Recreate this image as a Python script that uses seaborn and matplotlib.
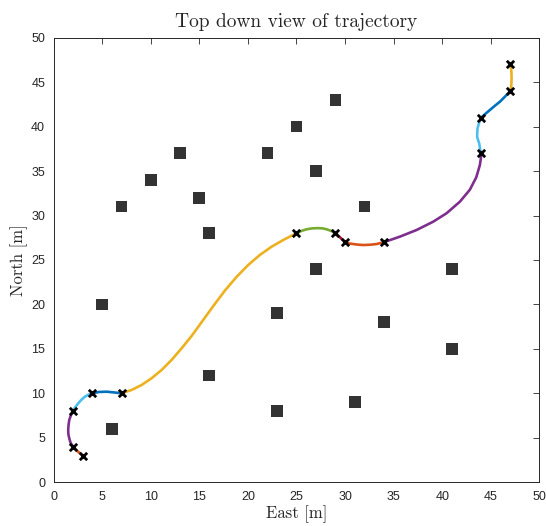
import pandas as pd
import matplotlib
matplotlib.use("Agg")
import matplotlib.pyplot as plt
import seaborn as sns

# obstacles (squares)
obs_x = [5, 6, 7, 10, 13, 15, 16, 16, 22, 23, 23, 25, 27, 27, 29, 31, 32, 34, 41, 41]
obs_y = [20, 6, 31, 34, 37, 32, 28, 12, 37, 19, 8, 40, 35, 24, 43, 9, 31, 18, 24, 15]

# waypoints
wp_x = [3, 2, 2, 4, 7, 25, 29, 30, 34, 44, 44, 47, 47]
wp_y = [3, 4, 8, 10, 10, 28, 28, 27, 27, 37, 41, 44, 47]

# trajectory points, one list per segment
seg_x = [
    [3, 2.5, 2],
    [2, 1.75, 1.62, 1.53, 1.51, 1.55, 1.62, 1.78, 2],
    [2, 2.25, 2.54, 2.88, 3.23, 3.6, 4],
    [4, 4.7, 5.46, 6.2, 7],
    [7, 8.03, 9.06, 10.09, 11.12, 12.15, 13.18, 14.21, 15.24, 16.43, 17.63,
     18.84, 20.03, 21.23, 22.44, 23.63, 24.3, 25],
    [25, 25.5, 26.04, 26.6, 27.2, 27.7, 28.1, 28.6, 29],
    [29, 29.47, 30],
    [30, 30.4, 30.83, 31.35, 31.86, 32.55, 33.24, 34],
    [34, 35.64, 37.36, 39.06, 40.44, 41.81, 42.84, 43.5, 43.87, 43.97, 44],
    [44, 43.88, 43.8, 43.68, 43.59, 43.6, 43.63, 43.78, 44],
    [44, 44.45, 44.9, 45.42, 45.93, 46.3, 46.61, 47],
    [47, 47.1, 47.13, 47.13, 47.1, 47],
]
seg_y = [
    [3, 3.45, 4],
    [4, 4.45, 4.94, 5.4, 5.87, 6.45, 7.0, 7.5, 8],
    [8, 8.45, 8.87, 9.28, 9.62, 9.85, 10],
    [10, 10.15, 10.18, 10.1, 10],
    [10, 10.37, 10.93, 11.69, 12.62, 13.75, 15.06, 16.45, 18.0, 19.8, 21.55,
     23.1, 24.43, 25.56, 26.49, 27.24, 27.62, 28],
    [28, 28.26, 28.45, 28.55, 28.58, 28.55, 28.45, 28.25, 28],
    [28, 27.55, 27],
    [27, 26.86, 26.79, 26.72, 26.68, 26.71, 26.79, 27],
    [27, 27.62, 28.37, 29.3, 30.25, 31.55, 32.9, 34.3, 35.68, 36.4, 37],
    [37, 37.55, 38.12, 38.5, 38.86, 39.35, 39.81, 40.4, 41],
    [41, 41.45, 41.87, 42.35, 42.8, 43.2, 43.55, 44],
    [44, 44.6, 45.24, 45.8, 46.4, 47],
]
seg_colors = ["#D95319", "#7E2F8E", "#4DBEEE", "#0072BD", "#EDB120", "#77AC30",
              "#A2142F", "#D95319", "#7E2F8E", "#4DBEEE", "#0072BD", "#EDB120"]

rows = []
for i, (xs, ys) in enumerate(zip(seg_x, seg_y)):
    for j, (a, b) in enumerate(zip(xs, ys)):
        rows.append({"seg": i, "order": j, "x": a, "y": b})
traj = pd.DataFrame(rows)

sns.set_style("white")
plt.rcParams["font.family"] = ["Liberation Sans", "DejaVu Sans"]

fig = plt.figure(figsize=(5.46, 5.26), dpi=100)
ax = fig.add_axes([0.098, 0.0833, 0.89, 0.845])

sns.scatterplot(x=obs_x, y=obs_y, marker="s", s=70, color="#333333",
                edgecolor="none", ax=ax, zorder=2)
sns.lineplot(data=traj, x="x", y="y", hue="seg", palette=seg_colors, sort=False,
             estimator=None, units="seg", lw=1.9, legend=False, ax=ax, zorder=3)
# round joins so the curves look smooth
for ln in ax.lines:
    ln.set_solid_joinstyle("round")
    ln.set_solid_capstyle("round")
sns.scatterplot(x=wp_x, y=wp_y, marker="x", s=28, color="black",
                linewidth=2.0, ax=ax, zorder=4)

ax.set_xlim(0, 50)
ax.set_ylim(0, 50)
ax.set_xticks(range(0, 51, 5))
ax.set_yticks(range(0, 51, 5))
ax.tick_params(direction="in", length=4, width=0.6, colors="#262626",
               labelsize=9, top=True, right=True, pad=6)
for sp in ax.spines.values():
    sp.set_color("#262626")
    sp.set_linewidth(0.7)

ax.set_title("Top down view of trajectory", family="cmr10", fontsize=14, pad=8)
ax.set_xlabel("East [m]", family="cmr10", fontsize=12, labelpad=2)
ax.set_ylabel("North [m]", family="cmr10", fontsize=12, labelpad=2)

fig.savefig("out.png", dpi=100)
